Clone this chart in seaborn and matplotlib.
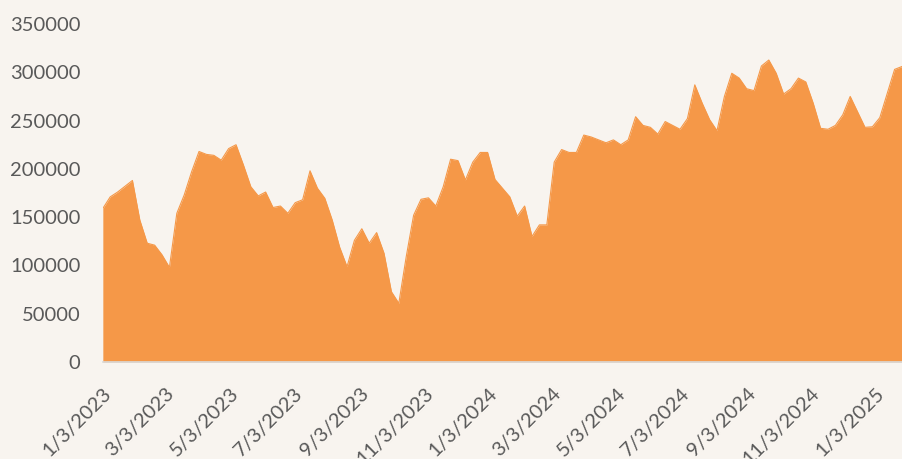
import pandas as pd
import numpy as np
import matplotlib
matplotlib.use('Agg')
import matplotlib.pyplot as plt
import seaborn as sns

# weekly values, starting 1/3/2023
start_date = '2023-01-03'
values = [
    159000, 171000, 176000, 182000, 188000, 147000, 123000, 121000, 111000, 98000,
    154000, 173000, 197000, 218000, 215000, 214000, 209000, 221000, 225000, 204000,
    181500, 172000, 176000, 160000, 161500, 154000, 165000, 168000, 198000, 180000,
    169500, 147000, 119000, 98700, 126000, 138000, 123000, 134000, 112600, 72800,
    60800, 109000, 152000, 168500, 170000, 161500, 181500, 210000, 208500, 188500,
    207000, 217000, 217000, 189000, 180000, 171000, 151000, 161500, 130000, 142000,
    142000, 207000, 220000, 217000, 217000, 235000, 233000, 230000, 227000, 230000,
    225000, 230000, 254000, 245000, 243000, 236000, 249000, 245000, 241000, 252000,
    287000, 268000, 251000, 239500, 275000, 299000, 294000, 283000, 281000, 306500,
    312700, 299000, 277500, 283000, 294000, 290000, 268000, 242000, 241000, 245000,
    256000, 275000, 259000, 243000, 243600, 253000, 278000, 303000, 306000,
]
tick_labels = ['1/3/2023', '3/3/2023', '5/3/2023', '7/3/2023', '9/3/2023', '11/3/2023',
               '1/3/2024', '3/3/2024', '5/3/2024', '7/3/2024', '9/3/2024', '11/3/2024',
               '1/3/2025']
y_ticks = [0, 50000, 100000, 150000, 200000, 250000, 300000, 350000]

dates = pd.date_range(start_date, periods=len(values), freq='7D')
tick_dates = pd.to_datetime(tick_labels, format='%m/%d/%Y')
df = pd.DataFrame({'date': dates, 'value': values})

bg = '#F8F4EF'
orange = '#F59848'
grey_text = '#595959'
axis_grey = '#D9D9D9'

sns.set_style('white')
plt.rcParams['font.family'] = ['Lato', 'DejaVu Sans']

fig = plt.figure(figsize=(9.02, 4.59), dpi=100)
fig.patch.set_facecolor(bg)
ax = fig.add_axes([0.114, 0.2113, 0.886, 0.7364])
ax.set_facecolor(bg)

sns.lineplot(data=df, x='date', y='value', color=orange, linewidth=0.8, ax=ax)
ax.fill_between(df['date'], 0, df['value'], color=orange, linewidth=0)

ax.set_xlim(dates[0], dates[-1])
ax.set_ylim(0, 350000)
ax.set_yticks(y_ticks)
ax.set_yticklabels([str(v) for v in y_ticks])
ax.set_xticks(tick_dates)
ax.set_xticklabels(tick_labels, rotation=45, ha='right', rotation_mode='anchor')
ax.set_xlabel('')
ax.set_ylabel('')

for s in ['top', 'right', 'left']:
    ax.spines[s].set_visible(False)
ax.spines['bottom'].set_color(axis_grey)
ax.spines['bottom'].set_linewidth(1.2)
ax.tick_params(axis='x', colors=axis_grey, length=6, width=1, labelcolor=grey_text,
               labelsize=14.5, pad=10)
ax.tick_params(axis='y', length=0, labelcolor=grey_text, labelsize=14.5, pad=16)

fig.savefig('out.png', dpi=100, facecolor=bg)
